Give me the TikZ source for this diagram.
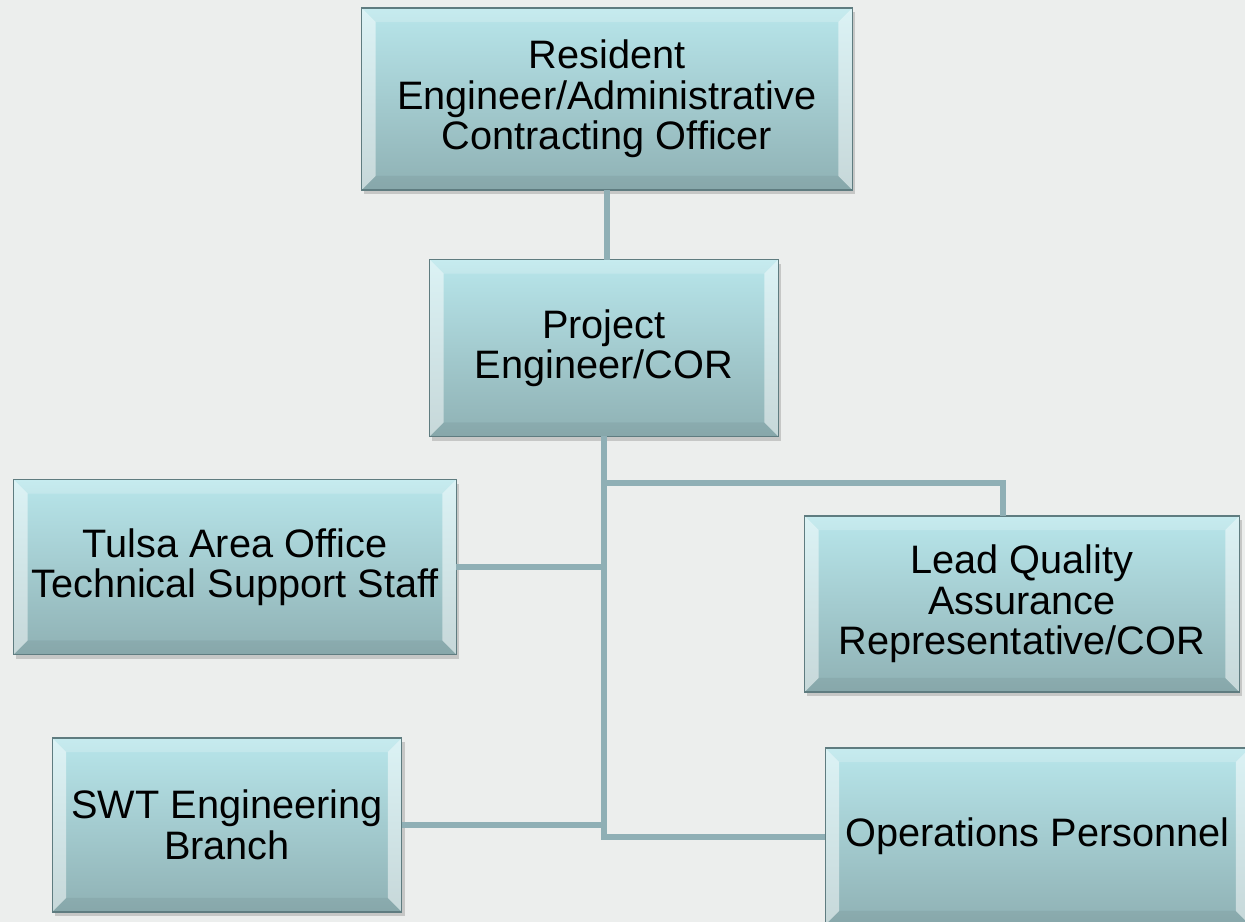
\documentclass[tikz,border=0pt]{standalone}
\usepackage{fontspec}
\setmainfont{Liberation Sans}
\usetikzlibrary{calc,positioning,shadows}

\definecolor{bgcol}{HTML}{ECEEED}
\definecolor{boxtop}{HTML}{B8E6EB}
\definecolor{boxbot}{HTML}{8FB1B4}
\definecolor{boxline}{HTML}{5F7C80}
\definecolor{linkcol}{HTML}{8FAFB5}

\tikzset{
  orgbox/.style={draw=boxline, line width=0.6pt, top color=boxtop, bottom color=boxbot,
    align=center, inner sep=0pt, outer sep=0pt,
    font=\fontsize{22.6}{23}\selectfont,
    drop shadow={shadow xshift=1.5pt, shadow yshift=-2.5pt, opacity=.35},
    path picture={
      % bevel, left and right bright, top light, bottom dark
      \fill[white, opacity=.5] (path picture bounding box.north west) -- (path picture bounding box.south west)
        -- ([shift={(.28cm,.28cm)}]path picture bounding box.south west) -- ([shift={(.28cm,-.28cm)}]path picture bounding box.north west) -- cycle;
      \fill[white, opacity=.5] (path picture bounding box.north east) -- (path picture bounding box.south east)
        -- ([shift={(-.28cm,.28cm)}]path picture bounding box.south east) -- ([shift={(-.28cm,-.28cm)}]path picture bounding box.north east) -- cycle;
      \fill[white, opacity=.2] (path picture bounding box.north west) -- (path picture bounding box.north east)
        -- ([shift={(-.28cm,-.28cm)}]path picture bounding box.north east) -- ([shift={(.28cm,-.28cm)}]path picture bounding box.north west) -- cycle;
      \fill[black, opacity=.05] (path picture bounding box.south west) -- (path picture bounding box.south east)
        -- ([shift={(-.28cm,.28cm)}]path picture bounding box.south east) -- ([shift={(.28cm,.28cm)}]path picture bounding box.south west) -- cycle;
    }},
  link/.style={draw=linkcol, line width=0.12cm}
}

\begin{document}
\begin{tikzpicture}[x=0.02cm, y=-0.02cm]
  \fill[bgcol] (0,0) rectangle (1245,922);
  \useasboundingbox (0,0) rectangle (1245,922);

  \node[orgbox, minimum width=9.82cm, minimum height=3.64cm] (res) at (607,99) {Resident\\Engineer/Administrative\\Contracting Officer};
  \node[orgbox, minimum width=6.98cm, minimum height=3.54cm] (proj) at (604,348) {Project\\Engineer/COR};
  \node[orgbox, minimum width=8.86cm, minimum height=3.5cm] (tulsa) at (235,567) {Tulsa Area Office\\Technical Support Staff};
  \node[orgbox, minimum width=8.7cm, minimum height=3.52cm] (lead) at (1022,604) {Lead Quality\\Assurance\\Representative/COR};
  \node[orgbox, minimum width=7cm, minimum height=3.48cm] (swt) at (227,825) {SWT Engineering\\Branch};
  \node[orgbox, minimum width=8.5cm, minimum height=3.54cm] (ops) at (1037.5,836.5) {Operations Personnel};

  \coordinate (jlead) at (604,483);

  \draw[link] (res.south) -- (res.south |- proj.north);
  \draw[link] (proj.south) |- (ops.west);
  \draw[link] (jlead) -| ($(lead.north)+(-19,0)$);
  \draw[link] (tulsa.east) -- (tulsa.east -| proj.south);
  \draw[link] (swt.east) -- (swt.east -| proj.south);
\end{tikzpicture}
\end{document}
